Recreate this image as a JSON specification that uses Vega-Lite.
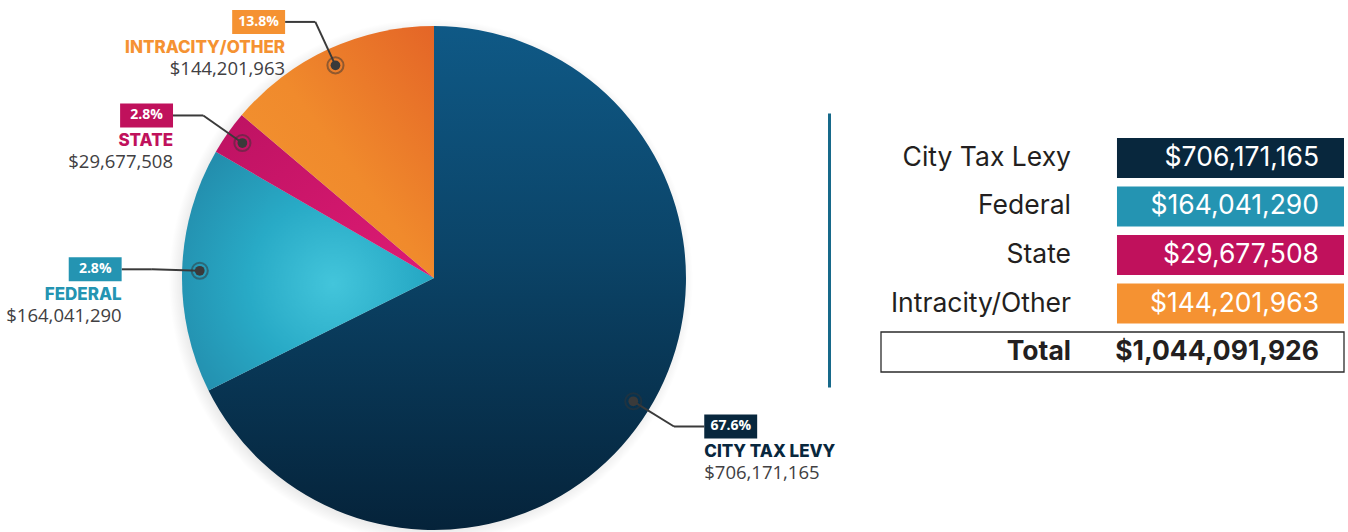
{
  "$schema": "https://vega.github.io/schema/vega-lite/v6.json",
  "padding": 0,
  "spacing": 0,
  "bounds": "flush",
  "background": "white",
  "config": {"view": {"stroke": null}, "font": "Inter"},
  "datasets": {
    "budget": [
      {"category": "City Tax Levy", "tableLabel": "City Tax Lexy", "amount": 706171165, "pct": 67.6},
      {"category": "Federal", "tableLabel": "Federal", "amount": 164041290, "pct": 2.8},
      {"category": "State", "tableLabel": "State", "amount": 29677508, "pct": 2.8},
      {"category": "Intracity/Other", "tableLabel": "Intracity/Other", "amount": 144201963, "pct": 13.8}
    ]
  },
  "resolve": {"scale": {"x": "independent", "y": "independent"}, "axis": {"x": "independent", "y": "independent"}},
  "hconcat": [
    {
      "width": 829,
      "height": 532,
      "data": {"name": "budget"},
      "layer": [
        {
          "transform": [{"aggregate": [{"op": "sum", "field": "amount", "as": "amount"}]}],
          "mark": {"type": "arc", "radius": 262, "xOffset": -3, "yOffset": 3},
          "encoding": {
            "theta": {"field": "amount", "type": "quantitative"},
            "x": {"datum": 0, "type": "quantitative", "scale": {"domain": [-1.7222, 1.5675], "nice": false, "zero": false}, "axis": null},
            "y": {"datum": 0, "type": "quantitative", "scale": {"domain": [-1.0079, 1.1032], "nice": false, "zero": false}, "axis": null},
            "fill": {"value": {"gradient": "radial", "x1": 0.5, "y1": 0.5, "r1": 0, "x2": 0.5, "y2": 0.5, "r2": 0.5,
              "stops": [{"offset": 0.9, "color": "rgba(0,0,0,0.16)"}, {"offset": 0.955, "color": "rgba(0,0,0,0.07)"}, {"offset": 1, "color": "rgba(0,0,0,0)"}]}}
          }
        },
        {
          "mark": {"type": "arc", "radius": 252},
          "encoding": {
            "theta": {"field": "amount", "type": "quantitative", "stack": true},
            "x": {"datum": 0, "type": "quantitative", "scale": {"domain": [-1.7222, 1.5675], "nice": false, "zero": false}, "axis": null},
            "y": {"datum": 0, "type": "quantitative", "scale": {"domain": [-1.0079, 1.1032], "nice": false, "zero": false}, "axis": null},
            "fill": {
              "condition": [
                {"test": "datum.category === 'City Tax Levy'", "value": {"gradient": "linear", "x1": 0, "y1": 0, "x2": 0, "y2": 1,
                  "stops": [{"offset": 0, "color": "#0f5986"}, {"offset": 0.45, "color": "#0b4468"}, {"offset": 1, "color": "#05233a"}]}},
                {"test": "datum.category === 'Federal'", "value": {"gradient": "radial", "x1": 0.6, "y1": 0.55, "r1": 0, "x2": 0.6, "y2": 0.55, "r2": 0.75,
                  "stops": [{"offset": 0, "color": "#43c5db"}, {"offset": 0.45, "color": "#28aac6"}, {"offset": 1, "color": "#2288a8"}]}},
                {"test": "datum.category === 'State'", "value": {"gradient": "linear", "x1": 1, "y1": 1, "x2": 0, "y2": 0,
                  "stops": [{"offset": 0, "color": "#de1b74"}, {"offset": 1, "color": "#bd1262"}]}}
              ],
              "value": {"gradient": "linear", "x1": 0, "y1": 1, "x2": 1, "y2": 0,
                "stops": [{"offset": 0, "color": "#f39632"}, {"offset": 0.5, "color": "#f08a2c"}, {"offset": 1, "color": "#e46527"}]}
            }
          }
        },
        {
          "transform": [
            {"window": [{"op": "sum", "field": "amount", "as": "cum"}], "frame": [null, 0]},
            {"joinaggregate": [{"op": "sum", "field": "amount", "as": "total"}]},
            {"calculate": "2*PI*(datum.cum - datum.amount/2)/datum.total", "as": "mid"},
            {"calculate": "sin(datum.mid) < 0 ? -1 : 1", "as": "side"},
            {"calculate": "0.93*sin(datum.mid)", "as": "dotX"},
            {"calculate": "0.93*cos(datum.mid)", "as": "dotY"},
            {"calculate": "1.12*sin(datum.mid)", "as": "elbowX"},
            {"calculate": "1.12*cos(datum.mid)", "as": "elbowY"},
            {"calculate": "datum.elbowX + datum.side*0.12", "as": "endX"},
            {"calculate": "datum.endX + datum.side*0.21", "as": "boxX2"},
            {"calculate": "datum.endX + datum.side*0.105", "as": "boxMid"},
            {"calculate": "datum.elbowY + 0.0476", "as": "boxY1"},
            {"calculate": "datum.elbowY - 0.0476", "as": "boxY2"},
            {"calculate": "upper(datum.category)", "as": "name"},
            {"calculate": "format(datum.pct, '.1f') + '%'", "as": "pctLabel"}
          ],
          "encoding": {
            "color": {"field": "category", "type": "nominal", "scale": {"domain": ["City Tax Levy", "Federal", "State", "Intracity/Other"], "range": ["#08273d", "#2494b2", "#c0115c", "#f59232"]}, "legend": null}
          },
          "layer": [
            {
              "mark": {"type": "rule", "color": "#3a3a3a", "strokeWidth": 2},
              "encoding": {
                "color": {"value": "#3a3a3a"},
                "x": {"field": "dotX", "type": "quantitative", "scale": {"domain": [-1.7222, 1.5675], "nice": false, "zero": false}, "axis": null},
                "y": {"field": "dotY", "type": "quantitative", "scale": {"domain": [-1.0079, 1.1032], "nice": false, "zero": false}, "axis": null},
                "x2": {"field": "elbowX"},
                "y2": {"field": "elbowY"}
              }
            },
            {
              "mark": {"type": "rule", "color": "#3a3a3a", "strokeWidth": 2},
              "encoding": {
                "color": {"value": "#3a3a3a"},
                "x": {"field": "elbowX", "type": "quantitative", "scale": {"domain": [-1.7222, 1.5675], "nice": false, "zero": false}, "axis": null},
                "y": {"field": "elbowY", "type": "quantitative", "scale": {"domain": [-1.0079, 1.1032], "nice": false, "zero": false}, "axis": null},
                "x2": {"field": "endX"},
                "y2": {"field": "elbowY"}
              }
            },
            {
              "mark": {"type": "point", "filled": false, "size": 260, "strokeWidth": 2, "opacity": 1, "strokeOpacity": 0.5},
              "encoding": {
                "color": {"value": "#333333"},
                "x": {"field": "dotX", "type": "quantitative", "scale": {"domain": [-1.7222, 1.5675], "nice": false, "zero": false}, "axis": null},
                "y": {"field": "dotY", "type": "quantitative", "scale": {"domain": [-1.0079, 1.1032], "nice": false, "zero": false}, "axis": null}
              }
            },
            {
              "mark": {"type": "point", "filled": true, "size": 95, "opacity": 1},
              "encoding": {
                "color": {"value": "#3a3a3a"},
                "x": {"field": "dotX", "type": "quantitative", "scale": {"domain": [-1.7222, 1.5675], "nice": false, "zero": false}, "axis": null},
                "y": {"field": "dotY", "type": "quantitative", "scale": {"domain": [-1.0079, 1.1032], "nice": false, "zero": false}, "axis": null}
              }
            },
            {
              "mark": {"type": "rect"},
              "encoding": {
                "x": {"field": "endX", "type": "quantitative", "scale": {"domain": [-1.7222, 1.5675], "nice": false, "zero": false}, "axis": null},
                "y": {"field": "boxY1", "type": "quantitative", "scale": {"domain": [-1.0079, 1.1032], "nice": false, "zero": false}, "axis": null},
                "x2": {"field": "boxX2"},
                "y2": {"field": "boxY2"}
              }
            },
            {
              "mark": {"type": "text", "font": "Open Sans", "fontWeight": "bold", "fontSize": 14, "align": "center", "baseline": "middle", "color": "white"},
              "encoding": {
                "color": {"value": "white"},
                "text": {"field": "pctLabel"},
                "x": {"field": "boxMid", "type": "quantitative", "scale": {"domain": [-1.7222, 1.5675], "nice": false, "zero": false}, "axis": null},
                "y": {"field": "elbowY", "type": "quantitative", "scale": {"domain": [-1.0079, 1.1032], "nice": false, "zero": false}, "axis": null}
              }
            },
            {
              "mark": {"type": "text", "font": "Inter", "fontWeight": 800, "fontSize": 17, "baseline": "middle", "dy": 26, "align": {"expr": "datum.side < 0 ? 'right' : 'left'"}},
              "encoding": {
                "text": {"field": "name"},
                "x": {"field": "endX", "type": "quantitative", "scale": {"domain": [-1.7222, 1.5675], "nice": false, "zero": false}, "axis": null},
                "y": {"field": "elbowY", "type": "quantitative", "scale": {"domain": [-1.0079, 1.1032], "nice": false, "zero": false}, "axis": null}
              }
            },
            {
              "mark": {"type": "text", "font": "Open Sans", "fontSize": 18.5, "baseline": "middle", "dy": 47, "align": {"expr": "datum.side < 0 ? 'right' : 'left'"}},
              "encoding": {
                "color": {"value": "#414042"},
                "text": {"field": "amount", "type": "quantitative", "format": "$,.0f"},
                "x": {"field": "endX", "type": "quantitative", "scale": {"domain": [-1.7222, 1.5675], "nice": false, "zero": false}, "axis": null},
                "y": {"field": "elbowY", "type": "quantitative", "scale": {"domain": [-1.0079, 1.1032], "nice": false, "zero": false}, "axis": null}
              }
            }
          ]
        }
      ]
    },
    {
      "width": 517,
      "height": 532,
      "data": {"name": "budget"},
      "encoding": {
        "y": {
          "field": "tableLabel", "type": "nominal",
          "scale": {"domain": ["City Tax Lexy", "Federal", "State", "Intracity/Other", "Total"], "range": [113, 387], "paddingInner": 0.175, "paddingOuter": 0.412, "align": 0.625},
          "axis": {"labels": false, "ticks": false, "title": null, "grid": false, "domainColor": "#17698a", "domainWidth": 3}
        }
      },
      "layer": [
        {
          "mark": {"type": "rect"},
          "encoding": {
            "x": {"datum": "amount", "type": "nominal", "scale": {"type": "band", "domain": ["label", "amount"], "range": [52, 515], "paddingInner": 0.038, "paddingOuter": 0}, "axis": null},
            "color": {"field": "category", "type": "nominal", "scale": {"domain": ["City Tax Levy", "Federal", "State", "Intracity/Other"], "range": ["#08273d", "#2494b2", "#c0115c", "#f59232"]}, "legend": null}
          }
        },
        {
          "mark": {"type": "text", "align": "right", "baseline": "middle", "fontSize": 26.5, "dx": -37, "font": "Inter"},
          "encoding": {
            "x": {"datum": "label", "type": "nominal", "bandPosition": 1, "scale": {"type": "band", "domain": ["label", "amount"], "range": [52, 515], "paddingInner": 0.038, "paddingOuter": 0}, "axis": null},
            "text": {"field": "tableLabel"},
            "color": {"value": "#231f20"}
          }
        },
        {
          "mark": {"type": "text", "align": "right", "baseline": "middle", "fontSize": 26.5, "dx": -25, "font": "Inter"},
          "encoding": {
            "x": {"datum": "amount", "type": "nominal", "bandPosition": 1, "scale": {"type": "band", "domain": ["label", "amount"], "range": [52, 515], "paddingInner": 0.038, "paddingOuter": 0}, "axis": null},
            "text": {"field": "amount", "type": "quantitative", "format": "$,.0f"},
            "color": {"value": "white"}
          }
        },
        {
          "transform": [
            {"aggregate": [{"op": "sum", "field": "amount", "as": "amount"}]},
            {"calculate": "'Total'", "as": "tableLabel"}
          ],
          "layer": [
            {
              "mark": {"type": "rect", "fill": "white", "stroke": "#2b2b2b", "strokeWidth": 1.3},
              "encoding": {
                "x": {"datum": "label", "type": "nominal", "bandPosition": 0, "scale": {"type": "band", "domain": ["label", "amount"], "range": [52, 515], "paddingInner": 0.038, "paddingOuter": 0}, "axis": null},
                "x2": {"datum": "amount", "bandPosition": 1}
              }
            },
            {
              "mark": {"type": "text", "align": "right", "baseline": "middle", "fontSize": 26.5, "dx": -37, "font": "Inter", "fontWeight": "bold"},
              "encoding": {
                "x": {"datum": "label", "type": "nominal", "bandPosition": 1, "scale": {"type": "band", "domain": ["label", "amount"], "range": [52, 515], "paddingInner": 0.038, "paddingOuter": 0}, "axis": null},
                "text": {"field": "tableLabel"},
                "color": {"value": "#231f20"}
              }
            },
            {
              "mark": {"type": "text", "align": "right", "baseline": "middle", "fontSize": 26.5, "dx": -25, "font": "Inter", "fontWeight": "bold"},
              "encoding": {
                "x": {"datum": "amount", "type": "nominal", "bandPosition": 1, "scale": {"type": "band", "domain": ["label", "amount"], "range": [52, 515], "paddingInner": 0.038, "paddingOuter": 0}, "axis": null},
                "text": {"field": "amount", "type": "quantitative", "format": "$,.0f"},
                "color": {"value": "#231f20"}
              }
            }
          ]
        }
      ]
    }
  ]
}
